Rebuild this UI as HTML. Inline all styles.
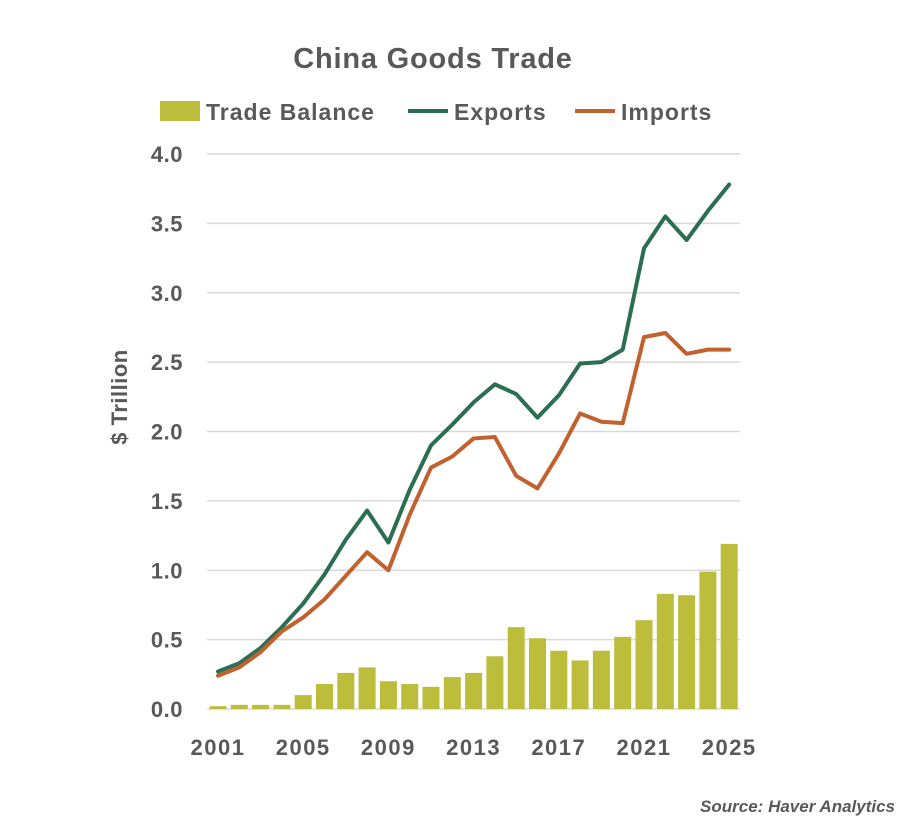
<!DOCTYPE html>
<html><head><meta charset="utf-8"><style>
body{margin:0;background:#fff;width:910px;height:834px;overflow:hidden;font-family:"Liberation Sans","Noto Sans CJK SC",sans-serif}
svg text{font-family:"Liberation Sans","Noto Sans CJK SC",sans-serif;font-weight:bold;fill:#595959}
</style></head><body>
<svg width="910" height="834">
<g id="grid"></g>
<g id="bars"></g>
<g id="lines"></g>
<g id="yt"></g>
<g id="xt"></g>
<text x="433" y="68" font-size="29" letter-spacing="0.8" text-anchor="middle">China Goods Trade</text>
<g>
<rect x="160" y="101" width="40" height="20" fill="#bcbd3a"/>
<text x="206" y="120" font-size="23" letter-spacing="1">Trade Balance</text>
<line x1="408" y1="111" x2="448" y2="111" stroke="#2b6e52" stroke-width="4"/>
<text x="454" y="120" font-size="23" letter-spacing="1">Exports</text>
<line x1="575" y1="111" x2="615" y2="111" stroke="#c0612f" stroke-width="4"/>
<text x="621" y="120" font-size="23" letter-spacing="1">Imports</text>
</g>
<text transform="translate(127,397) rotate(-90)" font-size="22" letter-spacing="0.5" text-anchor="middle">$ Trillion</text>
<text x="895" y="812" font-size="17" font-style="italic" text-anchor="end">Source: Haver Analytics</text>
</svg>
<script>
const years=[2001,2002,2003,2004,2005,2006,2007,2008,2009,2010,2011,2012,2013,2014,2015,2016,2017,2018,2019,2020,2021,2022,2023,2024,2025];
const balance=[0.02,0.03,0.03,0.03,0.10,0.18,0.26,0.30,0.20,0.18,0.16,0.23,0.26,0.38,0.59,0.51,0.42,0.35,0.42,0.52,0.64,0.83,0.82,0.99,1.19];
const exportsV=[0.27,0.33,0.44,0.59,0.76,0.97,1.22,1.43,1.20,1.58,1.90,2.05,2.21,2.34,2.27,2.10,2.26,2.49,2.50,2.59,3.32,3.55,3.38,3.59,3.78];
const importsV=[0.24,0.30,0.41,0.56,0.66,0.79,0.96,1.13,1.00,1.40,1.74,1.82,1.95,1.96,1.68,1.59,1.84,2.13,2.07,2.06,2.68,2.71,2.56,2.59,2.59];
const yTicks=[0,0.5,1,1.5,2,2.5,3,3.5,4];
const xTickYears=[2001,2005,2009,2013,2017,2021,2025];
const NS="http://www.w3.org/2000/svg";
const y=v=>709-v*138.75;
const x=yr=>218+(yr-2001)*21.3;
function mk(tag,parent,attrs){const e=document.createElementNS(NS,tag);for(const k in attrs)e.setAttribute(k,attrs[k]);document.getElementById(parent).appendChild(e);return e;}
yTicks.forEach(t=>{
 const l=mk('line','grid',{x1:207,x2:740,y1:y(t),y2:y(t),stroke:'#d9d9d9','stroke-width':1.5});
 
 
 const tx=mk('text','yt',{x:183,y:y(t)+8,'font-size':22,'letter-spacing':0.5,'text-anchor':'end'});
 tx.textContent=t.toFixed(1);
 
 
});
xTickYears.forEach(yr=>{
 const tx=mk('text','xt',{x:x(yr),y:755,'font-size':22,'letter-spacing':1.5,'text-anchor':'middle'});
 tx.textContent=yr;
 
 
});
years.forEach((yr,i)=>{
 const r=mk('rect','bars',{x:x(yr)-8.5,width:17,y:y(balance[i]),height:709-y(balance[i]),fill:'#bcbd3a'});
 
 
});
[[exportsV,'#2b6e52','exports-line'],[importsV,'#c0612f','imports-line']].forEach(([d,c,n])=>{
 const p=mk('polyline','lines',{points:years.map((yr,i)=>x(yr)+','+y(d[i])).join(' '),fill:'none',stroke:c,'stroke-width':4,'stroke-linejoin':'round','stroke-linecap':'round'});
 
 
});
</script>
</body></html>
